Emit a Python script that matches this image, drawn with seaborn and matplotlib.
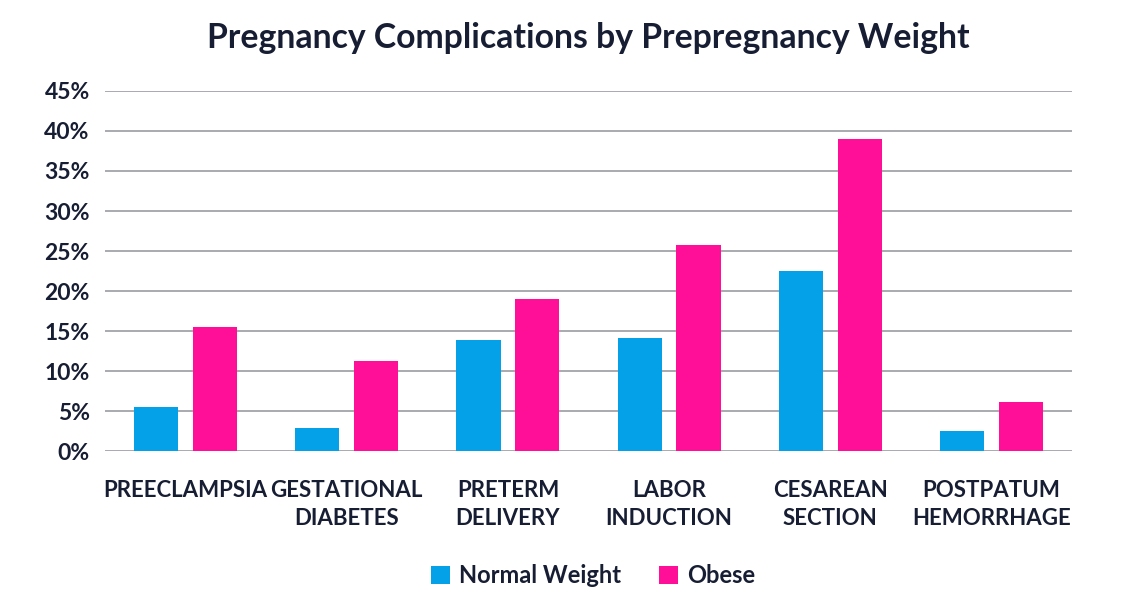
import matplotlib.pyplot as plt
import seaborn as sns
import pandas as pd
from matplotlib.ticker import FuncFormatter

categories = ["PREECLAMPSIA", "GESTATIONAL\nDIABETES", "PRETERM\nDELIVERY",
              "LABOR\nINDUCTION", "CESAREAN\nSECTION", "POSTPATUM\nHEMORRHAGE"]
normal_weight = [5.5, 2.9, 13.9, 14.1, 22.5, 2.5]
obese = [15.5, 11.3, 19.0, 25.8, 39.0, 6.1]
series = ["Normal Weight", "Obese"]
colors = ["#04A0E8", "#FF0E98"]

df = pd.DataFrame({
    "category": categories * 2,
    "value": normal_weight + obese,
    "group": [series[0]] * len(categories) + [series[1]] * len(categories),
})

sns.set_style("white")
plt.rcParams['font.family'] = ['Lato', 'DejaVu Sans']
text_color = "#171E33"

fig, ax = plt.subplots(figsize=(11.44, 6.05), dpi=100)
fig.subplots_adjust(left=0.0918, right=0.937, top=0.8496, bottom=0.2545)

sns.barplot(data=df, x="category", y="value", hue="group", palette=colors,
            width=0.73, gap=0.25, saturation=1, linewidth=0, ax=ax, legend=True)

ax.set_ylim(0, 45)
ax.set_yticks(range(0, 46, 5))
ax.yaxis.set_major_formatter(FuncFormatter(lambda v, p: f"{int(v)}%"))
ax.grid(axis="y", color="#9B9BA3", linewidth=1.2)
ax.set_axisbelow(True)
sns.despine(ax=ax, left=True, bottom=True)
ax.tick_params(axis="y", length=0, labelsize=16.5, labelcolor=text_color, pad=11)
ax.tick_params(axis="x", length=0, labelsize=16, labelcolor=text_color, pad=21)
for lab in ax.get_xticklabels() + ax.get_yticklabels():
    lab.set_fontweight("bold")
    lab.set_linespacing(1.4)
ax.set_xlabel("")
ax.set_ylabel("")

fig.suptitle("Pregnancy Complications by Prepregnancy Weight", x=0.514, y=0.963,
             fontsize=24.3, fontweight="bold", color=text_color)

leg = ax.legend(loc="upper center", bbox_to_anchor=(0.505, -0.255), ncol=2,
                frameon=False, fontsize=17, handlelength=0.8, handleheight=0.8,
                columnspacing=1.6, handletextpad=0.4)
for t in leg.get_texts():
    t.set_color(text_color)
    t.set_fontweight("bold")

fig.savefig("out.png", dpi=100)
